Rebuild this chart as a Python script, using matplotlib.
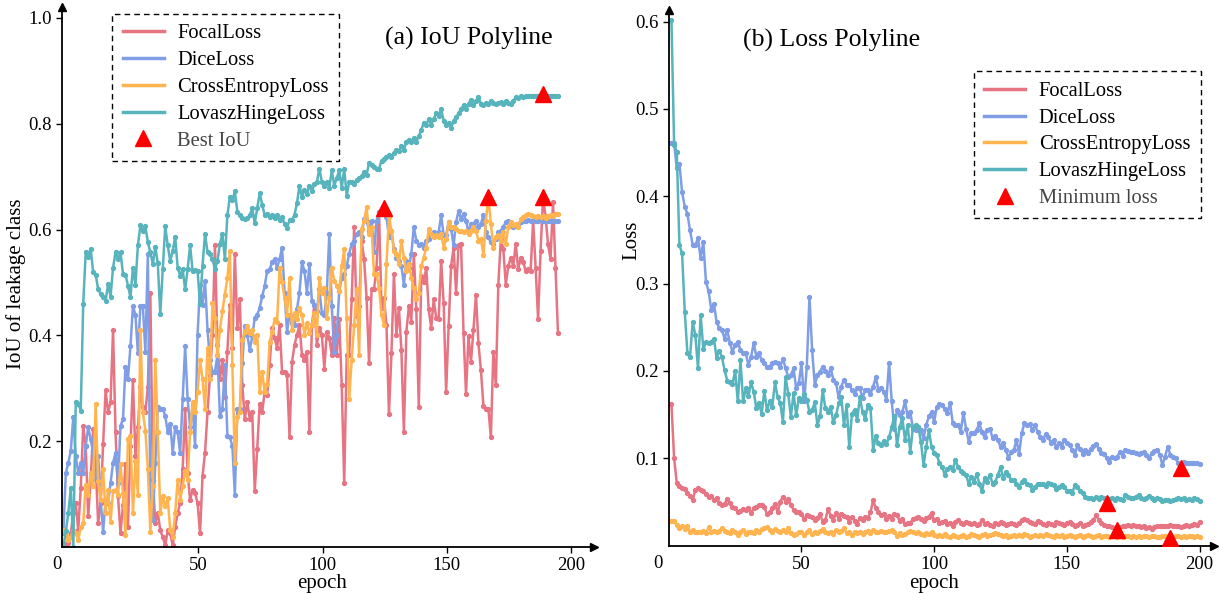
import numpy as np
import matplotlib
matplotlib.use("Agg")
import matplotlib.pyplot as plt
from matplotlib.lines import Line2D

plt.rcParams["font.family"] = ["Liberation Serif", "DejaVu Serif"]

names = ["FocalLoss", "DiceLoss", "CrossEntropyLoss", "LovaszHingeLoss"]
colors = ["#E67483", "#809EE6", "#FFB450", "#58B4BC"]

# (a) IoU of leakage class per epoch
iou_focal = [
    0.007, 0.003, 0.007, 0.026, 0.064, 0.083, 0.032, 0.112, 0.229, 0.191,
    0.058, 0.127, 0.223, 0.159, 0.045, 0.083, 0.194, 0.296, 0.255, 0.274,
    0.411, 0.217, 0.096, 0.026, 0.080, 0.156, 0.038, 0.191, 0.315, 0.172,
    0.226, 0.302, 0.264, 0.255, 0.302, 0.481, 0.127, 0.045, 0.064, 0.032,
    0.019, 0.003, 0.032, 0.026, 0.003, 0.038, 0.064, 0.083, 0.147, 0.261,
    0.140, 0.089, 0.108, 0.102, 0.083, 0.026, 0.134, 0.178, 0.255, 0.325,
    0.401, 0.570, 0.382, 0.318, 0.353, 0.283, 0.369, 0.458, 0.376, 0.554,
    0.414, 0.468, 0.306, 0.242, 0.274, 0.242, 0.255, 0.105, 0.185, 0.271,
    0.255, 0.293, 0.287, 0.344, 0.414, 0.395, 0.376, 0.420, 0.331, 0.331,
    0.325, 0.207, 0.350, 0.382, 0.401, 0.420, 0.363, 0.353, 0.369, 0.217,
    0.420, 0.458, 0.382, 0.414, 0.401, 0.337, 0.407, 0.395, 0.363, 0.433,
    0.363, 0.430, 0.306, 0.121, 0.363, 0.363, 0.468, 0.605, 0.436, 0.455,
    0.579, 0.544, 0.471, 0.347, 0.487, 0.487, 0.528, 0.633, 0.452, 0.471,
    0.420, 0.252, 0.366, 0.516, 0.401, 0.452, 0.372, 0.217, 0.407, 0.455,
    0.426, 0.554, 0.449, 0.264, 0.512, 0.500, 0.528, 0.449, 0.414, 0.468,
    0.433, 0.430, 0.541, 0.461, 0.293, 0.417, 0.531, 0.566, 0.481, 0.570,
    0.573, 0.404, 0.290, 0.398, 0.350, 0.411, 0.477, 0.385, 0.334, 0.267,
    0.261, 0.261, 0.207, 0.369, 0.306, 0.496, 0.582, 0.563, 0.496, 0.531,
    0.547, 0.531, 0.573, 0.525, 0.547, 0.538, 0.522, 0.525, 0.522, 0.617,
    0.528, 0.430, 0.560, 0.662, 0.624, 0.573, 0.544, 0.652, 0.528, 0.404,
]
iou_dice = [
    0.026, 0.140, 0.159, 0.182, 0.245, 0.172, 0.140, 0.159, 0.140, 0.191,
    0.226, 0.204, 0.178, 0.127, 0.172, 0.089, 0.029, 0.089, 0.083, 0.121,
    0.159, 0.178, 0.121, 0.229, 0.242, 0.341, 0.318, 0.379, 0.455, 0.439,
    0.366, 0.455, 0.455, 0.369, 0.554, 0.096, 0.051, 0.159, 0.264, 0.261,
    0.261, 0.248, 0.217, 0.232, 0.178, 0.226, 0.217, 0.178, 0.280, 0.379,
    0.280, 0.226, 0.267, 0.191, 0.401, 0.496, 0.458, 0.503, 0.411, 0.353,
    0.331, 0.331, 0.363, 0.248, 0.261, 0.344, 0.210, 0.207, 0.191, 0.099,
    0.261, 0.261, 0.347, 0.417, 0.401, 0.372, 0.398, 0.433, 0.439, 0.452,
    0.474, 0.493, 0.522, 0.525, 0.538, 0.544, 0.528, 0.544, 0.566, 0.481,
    0.407, 0.439, 0.423, 0.420, 0.449, 0.481, 0.538, 0.522, 0.481, 0.535,
    0.465, 0.458, 0.446, 0.487, 0.442, 0.439, 0.481, 0.592, 0.455, 0.369,
    0.401, 0.484, 0.509, 0.516, 0.531, 0.554, 0.573, 0.579, 0.592, 0.595,
    0.585, 0.620, 0.617, 0.598, 0.617, 0.557, 0.617, 0.633, 0.633, 0.641,
    0.624, 0.585, 0.598, 0.563, 0.547, 0.541, 0.531, 0.496, 0.541, 0.528,
    0.554, 0.605, 0.579, 0.570, 0.573, 0.566, 0.579, 0.582, 0.592, 0.595,
    0.592, 0.595, 0.627, 0.589, 0.589, 0.614, 0.601, 0.570, 0.614, 0.635,
    0.620, 0.630, 0.617, 0.595, 0.611, 0.611, 0.617, 0.605, 0.611, 0.627,
    0.595, 0.585, 0.576, 0.573, 0.582, 0.595, 0.598, 0.605, 0.614, 0.617,
    0.611, 0.605, 0.606, 0.611, 0.614, 0.616, 0.617, 0.618, 0.617, 0.618,
    0.616, 0.617, 0.618, 0.617, 0.617, 0.616, 0.617, 0.618, 0.617, 0.617,
]
iou_ce = [
    0.032, 0.023, 0.013, 0.019, 0.032, 0.026, 0.013, 0.038, 0.045, 0.118,
    0.099, 0.140, 0.115, 0.271, 0.124, 0.089, 0.147, 0.064, 0.108, 0.048,
    0.105, 0.108, 0.099, 0.156, 0.102, 0.023, 0.204, 0.210, 0.064, 0.162,
    0.099, 0.411, 0.255, 0.220, 0.147, 0.029, 0.115, 0.353, 0.217, 0.064,
    0.096, 0.077, 0.092, 0.032, 0.019, 0.064, 0.127, 0.089, 0.115, 0.143,
    0.127, 0.217, 0.274, 0.255, 0.293, 0.353, 0.318, 0.261, 0.376, 0.318,
    0.461, 0.433, 0.363, 0.411, 0.446, 0.477, 0.509, 0.560, 0.344, 0.159,
    0.245, 0.255, 0.391, 0.407, 0.417, 0.404, 0.411, 0.388, 0.401, 0.293,
    0.331, 0.293, 0.309, 0.388, 0.407, 0.430, 0.426, 0.528, 0.500, 0.471,
    0.439, 0.509, 0.411, 0.442, 0.430, 0.452, 0.439, 0.401, 0.423, 0.404,
    0.420, 0.442, 0.401, 0.509, 0.481, 0.490, 0.433, 0.471, 0.528, 0.503,
    0.493, 0.484, 0.531, 0.563, 0.433, 0.280, 0.353, 0.420, 0.487, 0.363,
    0.601, 0.617, 0.643, 0.592, 0.605, 0.516, 0.516, 0.490, 0.439, 0.420,
    0.535, 0.624, 0.598, 0.560, 0.554, 0.535, 0.579, 0.547, 0.522, 0.535,
    0.509, 0.490, 0.468, 0.481, 0.531, 0.547, 0.566, 0.601, 0.592, 0.585,
    0.589, 0.585, 0.592, 0.566, 0.582, 0.614, 0.605, 0.605, 0.601, 0.598,
    0.598, 0.595, 0.598, 0.592, 0.598, 0.605, 0.598, 0.579, 0.582, 0.551,
    0.617, 0.662, 0.611, 0.566, 0.585, 0.589, 0.579, 0.595, 0.573, 0.605,
    0.614, 0.608, 0.611, 0.605, 0.620, 0.624, 0.627, 0.629, 0.627, 0.625,
    0.624, 0.625, 0.624, 0.625, 0.622, 0.625, 0.627, 0.625, 0.629, 0.630,
]
iou_lovasz = [
    0.000, 0.030, 0.064, 0.112, 0.000, 0.274, 0.271, 0.258, 0.460, 0.557,
    0.548, 0.564, 0.519, 0.515, 0.487, 0.478, 0.473, 0.465, 0.497, 0.473,
    0.528, 0.557, 0.544, 0.557, 0.516, 0.515, 0.494, 0.472, 0.528, 0.496,
    0.570, 0.608, 0.598, 0.606, 0.576, 0.557, 0.535, 0.567, 0.536, 0.440,
    0.525, 0.606, 0.570, 0.540, 0.560, 0.586, 0.528, 0.513, 0.525, 0.487,
    0.525, 0.570, 0.522, 0.524, 0.522, 0.459, 0.532, 0.592, 0.557, 0.554,
    0.544, 0.525, 0.541, 0.573, 0.592, 0.544, 0.627, 0.662, 0.656, 0.672,
    0.634, 0.627, 0.621, 0.619, 0.621, 0.627, 0.640, 0.612, 0.640, 0.669,
    0.647, 0.627, 0.630, 0.624, 0.627, 0.621, 0.627, 0.618, 0.624, 0.610,
    0.603, 0.618, 0.618, 0.628, 0.650, 0.683, 0.661, 0.675, 0.668, 0.683,
    0.672, 0.686, 0.690, 0.715, 0.690, 0.683, 0.690, 0.679, 0.712, 0.683,
    0.697, 0.712, 0.679, 0.715, 0.664, 0.690, 0.690, 0.686, 0.694, 0.697,
    0.701, 0.708, 0.704, 0.726, 0.722, 0.719, 0.715, 0.715, 0.730, 0.733,
    0.737, 0.740, 0.737, 0.744, 0.751, 0.748, 0.758, 0.751, 0.766, 0.770,
    0.766, 0.773, 0.766, 0.777, 0.788, 0.802, 0.798, 0.809, 0.798, 0.809,
    0.820, 0.815, 0.827, 0.806, 0.798, 0.802, 0.791, 0.806, 0.812, 0.820,
    0.827, 0.835, 0.827, 0.838, 0.845, 0.835, 0.842, 0.850, 0.838, 0.835,
    0.840, 0.838, 0.842, 0.840, 0.838, 0.840, 0.841, 0.838, 0.843, 0.840,
    0.838, 0.843, 0.850, 0.848, 0.852, 0.850, 0.852, 0.852, 0.853, 0.852,
    0.853, 0.852, 0.853, 0.856, 0.852, 0.853, 0.852, 0.852, 0.853, 0.852,
]

# (b) training loss per epoch
loss_focal = [
    0.162, 0.100, 0.072, 0.068, 0.066, 0.065, 0.060, 0.057, 0.052, 0.064,
    0.066, 0.064, 0.062, 0.059, 0.056, 0.057, 0.052, 0.055, 0.049, 0.047,
    0.048, 0.053, 0.049, 0.044, 0.043, 0.038, 0.040, 0.042, 0.041, 0.043,
    0.037, 0.043, 0.044, 0.046, 0.047, 0.044, 0.036, 0.038, 0.043, 0.048,
    0.038, 0.050, 0.056, 0.050, 0.053, 0.047, 0.041, 0.038, 0.039, 0.036,
    0.030, 0.035, 0.034, 0.033, 0.029, 0.032, 0.036, 0.027, 0.029, 0.042,
    0.034, 0.029, 0.037, 0.031, 0.036, 0.034, 0.033, 0.027, 0.033, 0.028,
    0.025, 0.032, 0.029, 0.033, 0.032, 0.038, 0.052, 0.043, 0.038, 0.035,
    0.036, 0.030, 0.034, 0.030, 0.036, 0.035, 0.028, 0.030, 0.025, 0.026,
    0.026, 0.030, 0.032, 0.033, 0.030, 0.028, 0.032, 0.033, 0.037, 0.029,
    0.030, 0.026, 0.027, 0.028, 0.025, 0.026, 0.022, 0.027, 0.029, 0.026,
    0.025, 0.027, 0.026, 0.025, 0.026, 0.024, 0.025, 0.029, 0.025, 0.026,
    0.024, 0.022, 0.026, 0.025, 0.027, 0.026, 0.024, 0.025, 0.026, 0.025,
    0.024, 0.026, 0.029, 0.030, 0.029, 0.027, 0.026, 0.025, 0.028, 0.027,
    0.025, 0.024, 0.026, 0.025, 0.024, 0.027, 0.026, 0.025, 0.024, 0.026,
    0.027, 0.025, 0.023, 0.024, 0.026, 0.023, 0.024, 0.025, 0.027, 0.029,
    0.035, 0.029, 0.026, 0.024, 0.023, 0.022, 0.021, 0.020, 0.018, 0.021,
    0.022, 0.023, 0.024, 0.023, 0.024, 0.023, 0.022, 0.021, 0.023, 0.020,
    0.021, 0.019, 0.021, 0.022, 0.023, 0.022, 0.023, 0.022, 0.024, 0.023,
    0.022, 0.023, 0.021, 0.023, 0.024, 0.023, 0.024, 0.025, 0.024, 0.027,
]
loss_dice = [
    0.461, 0.461, 0.432, 0.437, 0.405, 0.388, 0.380, 0.361, 0.344, 0.344,
    0.352, 0.329, 0.348, 0.302, 0.291, 0.270, 0.277, 0.256, 0.249, 0.247,
    0.237, 0.247, 0.232, 0.222, 0.230, 0.233, 0.224, 0.221, 0.220, 0.207,
    0.216, 0.232, 0.216, 0.220, 0.212, 0.209, 0.204, 0.205, 0.209, 0.210,
    0.209, 0.205, 0.214, 0.203, 0.193, 0.195, 0.203, 0.180, 0.186, 0.209,
    0.165, 0.205, 0.285, 0.224, 0.184, 0.195, 0.199, 0.205, 0.200, 0.195,
    0.203, 0.190, 0.186, 0.170, 0.182, 0.190, 0.184, 0.184, 0.178, 0.174,
    0.180, 0.180, 0.169, 0.178, 0.178, 0.174, 0.182, 0.193, 0.178, 0.180,
    0.176, 0.167, 0.209, 0.165, 0.134, 0.155, 0.149, 0.153, 0.165, 0.148,
    0.153, 0.134, 0.132, 0.136, 0.132, 0.123, 0.138, 0.148, 0.153, 0.142,
    0.159, 0.162, 0.161, 0.156, 0.152, 0.163, 0.140, 0.138, 0.138, 0.130,
    0.152, 0.134, 0.119, 0.129, 0.129, 0.132, 0.140, 0.130, 0.124, 0.132,
    0.134, 0.123, 0.125, 0.121, 0.113, 0.118, 0.110, 0.100, 0.107, 0.109,
    0.121, 0.105, 0.129, 0.140, 0.138, 0.139, 0.132, 0.138, 0.130, 0.124,
    0.121, 0.128, 0.124, 0.118, 0.121, 0.113, 0.117, 0.113, 0.121, 0.117,
    0.115, 0.110, 0.104, 0.115, 0.111, 0.105, 0.109, 0.106, 0.111, 0.114,
    0.116, 0.111, 0.106, 0.105, 0.100, 0.096, 0.102, 0.100, 0.102, 0.107,
    0.103, 0.110, 0.108, 0.107, 0.107, 0.106, 0.105, 0.106, 0.107, 0.104,
    0.100, 0.106, 0.108, 0.110, 0.104, 0.092, 0.102, 0.113, 0.104, 0.102,
    0.100, 0.094, 0.089, 0.096, 0.095, 0.094, 0.095, 0.094, 0.094, 0.093,
]
loss_ce = [
    0.028, 0.028, 0.024, 0.020, 0.022, 0.019, 0.023, 0.016, 0.018, 0.015,
    0.016, 0.015, 0.017, 0.014, 0.021, 0.016, 0.017, 0.015, 0.017, 0.020,
    0.017, 0.015, 0.014, 0.018, 0.016, 0.012, 0.015, 0.018, 0.013, 0.016,
    0.015, 0.014, 0.018, 0.016, 0.019, 0.020, 0.021, 0.018, 0.016, 0.019,
    0.017, 0.015, 0.018, 0.016, 0.020, 0.014, 0.012, 0.013, 0.016, 0.015,
    0.012, 0.015, 0.018, 0.013, 0.016, 0.014, 0.017, 0.019, 0.015, 0.014,
    0.016, 0.013, 0.018, 0.015, 0.017, 0.020, 0.014, 0.016, 0.012, 0.015,
    0.014, 0.016, 0.013, 0.015, 0.017, 0.014, 0.018, 0.016, 0.015, 0.017,
    0.016, 0.015, 0.017, 0.018, 0.015, 0.011, 0.014, 0.012, 0.013, 0.015,
    0.017, 0.015, 0.014, 0.016, 0.013, 0.012, 0.014, 0.013, 0.015, 0.012,
    0.011, 0.012, 0.011, 0.013, 0.011, 0.010, 0.012, 0.011, 0.010, 0.011,
    0.012, 0.010, 0.011, 0.013, 0.012, 0.011, 0.010, 0.012, 0.013, 0.011,
    0.012, 0.013, 0.014, 0.013, 0.012, 0.011, 0.012, 0.010, 0.011, 0.012,
    0.011, 0.012, 0.011, 0.013, 0.012, 0.010, 0.011, 0.012, 0.011, 0.012,
    0.011, 0.013, 0.012, 0.011, 0.010, 0.012, 0.011, 0.012, 0.010, 0.011,
    0.012, 0.011, 0.010, 0.011, 0.012, 0.010, 0.011, 0.012, 0.011, 0.010,
    0.011, 0.012, 0.010, 0.011, 0.0105, 0.010, 0.011, 0.0105, 0.010, 0.011,
    0.010, 0.011, 0.0105, 0.010, 0.011, 0.0102, 0.011, 0.010, 0.0105, 0.011,
    0.010, 0.0105, 0.011, 0.010, 0.0102, 0.011, 0.0105, 0.010, 0.0088, 0.0102,
    0.011, 0.0105, 0.010, 0.011, 0.0102, 0.0105, 0.011, 0.0102, 0.0105, 0.0098,
]
loss_lovasz = [
    0.602, 0.459, 0.451, 0.344, 0.335, 0.268, 0.221, 0.216, 0.256, 0.241,
    0.203, 0.264, 0.225, 0.233, 0.232, 0.233, 0.237, 0.215, 0.223, 0.216,
    0.201, 0.189, 0.187, 0.185, 0.200, 0.165, 0.212, 0.165, 0.180, 0.171,
    0.187, 0.176, 0.157, 0.163, 0.151, 0.177, 0.155, 0.165, 0.159, 0.187,
    0.170, 0.163, 0.142, 0.193, 0.174, 0.147, 0.175, 0.149, 0.169, 0.165,
    0.174, 0.167, 0.153, 0.155, 0.164, 0.138, 0.148, 0.178, 0.157, 0.153,
    0.159, 0.141, 0.149, 0.163, 0.170, 0.138, 0.161, 0.113, 0.151, 0.155,
    0.144, 0.170, 0.153, 0.145, 0.161, 0.157, 0.110, 0.125, 0.117, 0.115,
    0.120, 0.116, 0.124, 0.136, 0.148, 0.115, 0.136, 0.146, 0.121, 0.138,
    0.107, 0.136, 0.138, 0.136, 0.119, 0.092, 0.113, 0.132, 0.113, 0.106,
    0.104, 0.094, 0.090, 0.081, 0.088, 0.090, 0.087, 0.098, 0.090, 0.085,
    0.083, 0.081, 0.071, 0.079, 0.073, 0.082, 0.071, 0.062, 0.077, 0.073,
    0.081, 0.071, 0.073, 0.081, 0.090, 0.077, 0.084, 0.081, 0.075, 0.075,
    0.070, 0.067, 0.073, 0.075, 0.071, 0.069, 0.064, 0.067, 0.071, 0.070,
    0.071, 0.068, 0.072, 0.071, 0.069, 0.065, 0.067, 0.069, 0.067, 0.063,
    0.062, 0.060, 0.069, 0.067, 0.063, 0.060, 0.056, 0.054, 0.054, 0.053,
    0.056, 0.053, 0.056, 0.055, 0.049, 0.053, 0.054, 0.052, 0.055, 0.053,
    0.052, 0.058, 0.056, 0.055, 0.054, 0.056, 0.058, 0.055, 0.053, 0.055,
    0.057, 0.054, 0.052, 0.054, 0.053, 0.051, 0.052, 0.052, 0.051, 0.052,
    0.053, 0.054, 0.053, 0.054, 0.052, 0.053, 0.052, 0.054, 0.053, 0.051,
]

iou_series = [iou_focal, iou_dice, iou_ce, iou_lovasz]
loss_series = [loss_focal, loss_dice, loss_ce, loss_lovasz]

# the IoU log starts a few ticks left of the 0 label in the original figure
iou_epoch = np.arange(len(iou_focal)) - 4.3
loss_epoch = np.arange(1, len(loss_focal) + 1)


def style_axes(ax, xlim, ylim, yticks):
    ax.set_xlim(*xlim)
    ax.set_ylim(*ylim)
    for side in ("top", "right"):
        ax.spines[side].set_visible(False)
    for side in ("left", "bottom"):
        ax.spines[side].set_linewidth(1.3)
    # arrow heads on the axes
    ax.plot(1, 0, ">k", ms=6, transform=ax.transAxes, clip_on=False)
    ax.plot(0, 1, "^k", ms=6, transform=ax.transAxes, clip_on=False)
    ax.set_xticks([50, 100, 150, 200])
    ax.set_yticks(yticks)
    ax.tick_params(labelsize=13.5, length=4, width=1)


def add_legend(ax, marker_label, anchor):
    handles = [Line2D([], [], color=c, lw=2.5) for c in colors]
    handles.append(Line2D([], [], color="red", marker="^", ls="none", ms=11))
    leg = ax.legend(handles, names + [marker_label], loc="upper left",
                    bbox_to_anchor=anchor, borderaxespad=0, fontsize=14.8,
                    fancybox=False, framealpha=1, edgecolor="black",
                    handlelength=2.0, handletextpad=0.65, labelspacing=0.36,
                    borderpad=0.5)
    leg.get_frame().set_linestyle((0, (4, 3)))
    leg.get_frame().set_linewidth(1.0)
    leg.get_texts()[-1].set_color("#444444")


fig = plt.figure(figsize=(12.2, 5.94), dpi=100)
ax1 = fig.add_axes([0.0511, 0.0791, 0.4354, 0.9086])
ax2 = fig.add_axes([0.5482, 0.0815, 0.4468, 0.9013])

# (a) IoU
for values, c in zip(iou_series, colors):
    ax1.plot(iou_epoch, values, color=c, lw=1.8, marker="o", ms=2.8)
for values in iou_series:
    k = int(np.argmax(values))
    ax1.plot(iou_epoch[k], values[k], "^", color="red", ms=11, zorder=5)
style_axes(ax1, (-4.7, 209), (0, 1.02), [0.2, 0.4, 0.6, 0.8, 1.0])
ax1.text(-0.01, -0.0167, "0", transform=ax1.transAxes, ha="center", va="top", fontsize=13.5)
ax1.set_xlabel("epoch", fontsize=15)
ax1.xaxis.set_label_coords(0.489, -0.05)
ax1.set_ylabel("IoU of leakage class", fontsize=15)
ax1.yaxis.set_label_coords(-0.068, 0.487)
ax1.text(0.608, 0.943, "(a) IoU Polyline", transform=ax1.transAxes,
         ha="left", va="center", fontsize=18.5)
add_legend(ax1, "Best IoU", (0.094, 0.988))

# (b) Loss
for values, c in zip(loss_series, colors):
    ax2.plot(loss_epoch, values, color=c, lw=1.8, marker="o", ms=2.8)
for values in loss_series:
    k = int(np.argmin(values))
    ax2.plot(loss_epoch[k], values[k], "^", color="red", ms=11, zorder=5)
style_axes(ax2, (0, 205.4), (0, 0.613), [0.1, 0.2, 0.3, 0.4, 0.5, 0.6])
ax2.text(-0.02, -0.0168, "0", transform=ax2.transAxes, ha="center", va="top", fontsize=13.5)
ax2.set_xlabel("epoch", fontsize=15)
ax2.xaxis.set_label_coords(0.487, -0.053)
ax2.set_ylabel("Loss", fontsize=15)
ax2.yaxis.set_label_coords(-0.05, 0.571)
ax2.text(0.136, 0.944, "(b) Loss Polyline", transform=ax2.transAxes,
         ha="left", va="center", fontsize=18.5)
add_legend(ax2, "Minimum loss", (0.56, 0.886))

fig.savefig("out.png", dpi=100)
